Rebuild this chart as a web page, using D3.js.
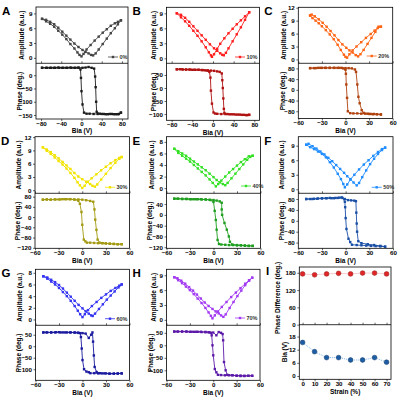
<!DOCTYPE html>
<html>
<head>
<meta charset="utf-8">
<script src="https://cdn.jsdelivr.net/npm/d3@7/dist/d3.min.js"></script>
<style>
  body { margin: 0; background: #fff; }
  text { font-family: 'Liberation Sans', Arial, sans-serif; font-weight: bold; }
</style>
</head>
<body>
<svg id="fig" width="400" height="397"></svg>
<script>
// ---- data: [bias (V), value] pairs ----
// A, 0 %
const ampUpA = [[-78,7.9],[-70,7.7],[-62,7.3],[-54,6.8],[-46,6.1],[-38,5.3],[-30,4.5],[-22,3.7],[-14,2.9],[-6,2.2],[2,1.6],[8,1.2],[14,0.9],[19,0.6],[23,0.5],[28,0.9],[34,1.7],[42,2.8],[50,3.9],[58,5.0],[66,6.0],[72,6.8],[78,7.6]];
const ampDownA = [[-78,7.9],[-70,7.4],[-62,6.9],[-54,6.3],[-46,5.5],[-38,4.7],[-30,3.8],[-22,2.8],[-14,1.9],[-8,1.1],[-4,0.6],[0,0.3],[4,0.8],[10,1.7],[18,2.6],[26,3.5],[34,4.3],[42,5.1],[50,5.8],[58,6.5],[66,7.0],[72,7.3],[78,7.6]];
const phaseUpA = [[-78,28],[-70,28],[-62,28],[-54,28],[-46,29],[-38,28],[-30,28],[-22,29],[-14,28],[-6,29],[2,28],[8,29],[14,31],[20,28],[25,25],[27,-5],[28,-45],[29,-100],[30,-138],[36,-145],[44,-146],[52,-147],[60,-146],[68,-147],[74,-146],[78,-141]];
const phaseDownA = [[78,-141],[72,-147],[64,-147],[56,-146],[48,-147],[40,-146],[32,-146],[24,-146],[16,-145],[10,-145],[5,-141],[2,-110],[0,-60],[-1,-10],[-2,22],[-6,28],[-12,28],[-20,28],[-28,28],[-36,28],[-44,28],[-52,28],[-60,28],[-68,28],[-78,28]];
// B, 10 %
const ampUpB = [[-70,9.0],[-62,8.7],[-54,8.1],[-46,7.3],[-38,6.4],[-30,5.5],[-22,4.6],[-14,3.7],[-6,2.8],[2,2.0],[8,1.5],[14,1.0],[18,0.7],[21,0.6],[25,1.1],[30,2.0],[38,3.4],[46,4.8],[54,6.2],[62,7.7],[70,9.2]];
const ampDownB = [[-70,9.0],[-62,8.2],[-54,7.4],[-46,6.5],[-38,5.5],[-30,4.5],[-22,3.4],[-14,2.2],[-8,1.2],[-4,0.6],[-2,0.3],[2,0.8],[8,1.9],[14,2.9],[22,4.0],[30,5.0],[38,5.9],[46,6.8],[54,7.6],[62,8.4],[70,9.2]];
const phaseUpB = [[-70,72],[-64,72],[-58,71],[-52,71],[-46,71],[-40,70],[-34,70],[-28,70],[-22,69],[-16,68],[-10,68],[-4,67],[2,66],[8,64],[13,62],[17,56],[18,30],[19,0],[20,-40],[21,-80],[22,-96],[28,-100],[36,-101],[44,-102],[52,-102],[60,-103],[66,-104],[70,-103]];
const phaseDownB = [[70,-103],[64,-104],[56,-103],[48,-102],[40,-101],[32,-101],[24,-100],[16,-100],[8,-99],[4,-98],[1,-94],[-2,-60],[-4,-10],[-5,40],[-7,62],[-12,67],[-20,69],[-28,70],[-36,70],[-44,71],[-52,71],[-60,72],[-70,72]];
// C, 20 %
const ampUpC = [[-45,10.2],[-43,10.4],[-39,10.0],[-34,9.3],[-29,8.5],[-24,7.6],[-19,6.6],[-14,5.6],[-9,4.5],[-4,3.5],[1,2.7],[5,2.1],[9,1.6],[13,1.0],[16,0.7],[19,1.2],[23,2.2],[28,3.6],[33,5.0],[38,6.4],[42,7.6],[45,7.6]];
const ampDownC = [[-45,10.2],[-42,9.6],[-38,9.0],[-34,8.4],[-30,7.7],[-25,6.8],[-20,5.8],[-15,4.7],[-10,3.4],[-6,2.2],[-2,1.1],[0,0.6],[2,0.4],[5,1.2],[9,2.1],[14,3.0],[20,4.0],[26,5.0],[32,5.9],[37,6.7],[41,7.3],[45,7.6]];
const phaseUpC = [[-45,81],[-40,81],[-35,82],[-30,82],[-25,82],[-20,82],[-15,82],[-10,82],[-5,82],[0,81],[4,81],[8,80],[12,76],[13.4,67],[15,20],[16.4,-26],[18,-50],[20.6,-76],[23,-86],[28,-89],[32,-90],[36,-90],[40,-91],[45,-92]];
const phaseDownC = [[45,-92],[40,-91],[35,-91],[30,-90],[25,-89],[20,-89],[15,-88],[10,-88],[6,-87],[3,-80],[2,-30],[1,20],[0.5,60],[0,75],[-3,80],[-8,82],[-14,82],[-20,82],[-26,82],[-32,82],[-38,81],[-45,81]];
// D, 30 %
const ampUpD = [[-50,9.7],[-45,9.2],[-40,8.6],[-35,7.9],[-30,7.2],[-25,6.4],[-20,5.6],[-15,4.8],[-10,3.9],[-5,3.1],[0,2.5],[5,1.9],[10,1.4],[13,1.0],[16,0.8],[19,1.3],[24,2.4],[30,3.7],[36,5.0],[42,6.2],[47,7.1],[50,7.5]];
const ampDownD = [[-50,9.7],[-45,8.9],[-40,8.2],[-35,7.4],[-30,6.6],[-25,5.8],[-20,4.9],[-15,3.9],[-10,2.8],[-6,1.8],[-3,1.1],[0,0.5],[3,1.0],[7,1.9],[12,2.7],[18,3.6],[24,4.5],[30,5.3],[36,6.1],[42,6.8],[47,7.3],[50,7.5]];
const phaseUpD = [[-50,68],[-45,69],[-40,68],[-35,69],[-30,69],[-25,70],[-20,70],[-15,70],[-10,69],[-5,69],[0,68],[5,66],[10,63],[14,60],[15.5,30],[16.5,-10],[18,-50],[19.5,-88],[22,-100],[26,-102],[30,-103],[35,-104],[40,-105],[45,-106],[50,-106]];
const phaseDownD = [[50,-106],[45,-106],[40,-105],[35,-104],[30,-103],[25,-102],[20,-102],[15,-101],[10,-100],[6,-100],[4,-95],[2,-88],[0,-30],[-1,20],[-3,52],[-5,64],[-10,68],[-16,70],[-22,70],[-28,69],[-34,69],[-40,68],[-45,69],[-50,68]];
// E, 40 %
const ampUpE = [[-50,6.8],[-45,6.4],[-40,6.0],[-35,5.6],[-30,5.1],[-25,4.6],[-20,4.1],[-15,3.6],[-10,3.1],[-5,2.5],[0,1.9],[4,1.4],[8,1.0],[12,0.7],[15,0.5],[18,0.9],[23,1.7],[28,2.5],[33,3.3],[38,4.1],[43,4.9],[47,5.4],[50,5.6]];
const ampDownE = [[-50,6.8],[-45,6.1],[-40,5.6],[-35,5.1],[-30,4.6],[-25,4.0],[-20,3.4],[-15,2.8],[-10,2.2],[-5,1.5],[-1,0.9],[3,0.3],[6,0.7],[10,1.3],[15,2.0],[20,2.7],[25,3.3],[30,3.9],[35,4.5],[40,5.0],[45,5.5],[50,5.6]];
const phaseUpE = [[-50,60],[-45,60],[-40,59],[-35,59],[-30,58],[-25,58],[-20,58],[-15,57],[-10,57],[-5,56],[0,55],[4,53],[8,50],[10.5,45],[10.5,20],[11,0],[14,-30],[17,-55],[19.6,-80],[21,-100],[24,-110],[30,-112],[35,-113],[40,-114],[45,-115],[50,-115]];
const phaseDownE = [[50,-115],[45,-115],[40,-114],[35,-113],[30,-113],[25,-112],[20,-112],[15,-111],[10,-110],[7,-108],[5.2,-93],[4,-55],[3,-19],[1.5,15],[0,48],[-4,55],[-10,57],[-16,58],[-22,58],[-28,58],[-34,59],[-40,59],[-46,60],[-50,60]];
// F, 50 %
const ampUpF = [[-50,9.2],[-47,9.4],[-42,8.9],[-37,8.4],[-32,7.8],[-27,7.2],[-22,6.5],[-17,5.8],[-12,5.0],[-7,4.2],[-2,3.4],[2,2.7],[6,2.1],[10,1.4],[14,0.8],[17,1.3],[21,2.5],[26,3.9],[31,5.2],[36,6.3],[41,7.3],[46,8.1],[50,8.6]];
const ampDownF = [[-50,9.2],[-45,8.7],[-40,8.3],[-35,7.8],[-30,7.3],[-25,6.6],[-20,5.6],[-15,4.5],[-10,3.2],[-6,2.1],[-3,1.1],[-1,0.4],[2,1.0],[6,2.0],[11,3.0],[17,4.1],[23,5.1],[29,6.0],[35,6.9],[41,7.7],[46,8.3],[50,8.6]];
const phaseUpF = [[-50,80],[-45,80],[-40,81],[-35,82],[-30,83],[-25,83],[-20,84],[-15,83],[-10,84],[-5,86],[-1,80],[3,76],[7,75],[11,74],[13,72],[13.5,30],[14,-10],[14.5,-40],[16,-75],[20,-82],[28,-86],[36,-89],[44,-92],[50,-95]];
const phaseDownF = [[50,-95],[44,-94],[38,-93],[32,-92],[26,-91],[20,-90],[14,-89],[8,-88],[5.8,-78],[3.6,-66],[1,-30],[0,10],[-0.6,50],[-1,70],[-4,84],[-8,85],[-13,84],[-18,83],[-24,83],[-30,82],[-36,81],[-42,80],[-50,80]];
// G, 60 %
const ampUpG = [[-50,7.4],[-45,7.2],[-40,6.8],[-35,6.4],[-30,5.9],[-25,5.3],[-20,4.6],[-15,3.9],[-10,3.2],[-5,2.5],[0,1.9],[4,1.4],[8,1.0],[11,0.7],[13,0.6],[16,1.0],[21,1.8],[26,2.6],[31,3.4],[36,4.1],[41,4.8],[46,5.5],[50,6.0]];
const ampDownG = [[-50,7.4],[-45,7.0],[-40,6.5],[-35,6.0],[-30,5.4],[-25,4.7],[-20,4.0],[-15,3.2],[-10,2.3],[-6,1.5],[-3,0.9],[0,0.4],[3,0.9],[7,1.6],[12,2.3],[18,3.0],[24,3.7],[30,4.3],[36,4.9],[42,5.4],[47,5.8],[50,6.0]];
const phaseUpG = [[-50,60],[-45,60],[-40,60],[-35,60],[-30,61],[-25,60],[-20,60],[-15,60],[-10,59],[-5,58],[0,57],[4,55],[8,36],[11,50],[12.7,60],[13.5,20],[14.5,-40],[15.5,-90],[18,-112],[22,-117],[28,-118],[34,-119],[40,-119],[45,-118],[50,-118]];
const phaseDownG = [[50,-118],[45,-119],[40,-119],[35,-119],[30,-118],[25,-118],[20,-118],[15,-117],[10,-117],[8,-113],[5,-110],[2,-100],[0,-60],[-1,-10],[-2,40],[-3,57],[-6,59],[-10,60],[-16,60],[-22,60],[-28,60],[-34,61],[-40,60],[-46,60],[-50,60]];
// H, 70 %
const ampUpH = [[-50,8.6],[-46,8.4],[-41,7.9],[-36,7.3],[-31,6.6],[-26,5.9],[-21,5.1],[-16,4.3],[-11,3.5],[-6,2.8],[-1,2.2],[3,1.7],[7,1.3],[10,0.9],[13,0.6],[16,1.1],[21,2.4],[26,3.6],[31,4.8],[36,5.9],[41,7.0],[46,7.9],[50,8.5]];
const ampDownH = [[-50,8.6],[-45,8.0],[-40,7.4],[-35,6.7],[-30,6.0],[-25,5.2],[-20,4.3],[-15,3.4],[-10,2.4],[-6,1.5],[-3,0.8],[-1,0.3],[2,0.9],[6,1.7],[11,2.6],[17,3.6],[23,4.6],[29,5.5],[35,6.4],[41,7.3],[46,8.0],[50,8.5]];
const phaseUpH = [[-50,55],[-45,55],[-40,55],[-35,55],[-30,54],[-25,54],[-20,54],[-15,53],[-10,53],[-5,52],[0,51],[4,40],[7,53],[10,50],[12,45],[12.7,20],[13.8,-67],[15.9,-100],[18,-118],[24,-120],[30,-122],[35,-123],[40,-123],[45,-122],[50,-122]];
const phaseDownH = [[50,-122],[45,-122],[40,-122],[35,-121],[30,-121],[25,-120],[20,-120],[15,-120],[10,-119],[6,-118],[4,-108],[2,-95],[0,-40],[-1,0],[-2,40],[-3,50],[-6,52],[-10,53],[-16,54],[-22,54],[-28,54],[-34,55],[-40,55],[-46,55],[-50,55]];
// I, summary vs strain
const strain = [0, 10, 20, 30, 40, 50, 60, 70];
const phaseDiff = [176, 173, 176, 178, 176, 179, 179, 176];
const coerciveBias = [15.3, 11.1, 8.4, 8.4, 7.3, 7.3, 8.4, 6.3];

// tick labels
const biasTicksWide = [-80, -40, 0, 40, 80];
const biasTicks = [-60, -30, 0, 30, 60];
const strainTicks = [0, 10, 20, 30, 40, 50, 60, 70];

const svg = d3.select('#fig');

// panels: layout + which arrays to use
const panels = [
  {id: 'A', label: '0%', x0: 36, x1: 128, y0: 7, ym: 63.3, y1: 119, xd: [-90, 92], ad: [-1.1, 10.3], pd: [-165, 45],
   xt: biasTicksWide, at: [0, 3, 6, 9], pt: [0, -50, -100, -150], ampLx: 21.5, phLx: 19.5, legX: 113, legY: 57,
   ampC: '#444444', phC: '#1c1c1c', amp: [ampUpA, ampDownA], ph: [phaseUpA, phaseDownA]},
  {id: 'B', label: '10%', x0: 166.5, x1: 259.5, y0: 7.3, ym: 63.3, y1: 120.3, xd: [-90, 90], ad: [-1, 10.2], pd: [-124, 95],
   xt: biasTicksWide, at: [0, 3, 6, 9], pt: [50, 0, -50, -100], ampLx: 154, phLx: 154, legX: 240, legY: 57,
   ampC: '#ff1f1f', phC: '#b01212', amp: [ampUpB, ampDownB], ph: [phaseUpB, phaseDownB]},
  {id: 'C', label: '20%', x0: 298.3, x1: 392.7, y0: 7.3, ym: 63.3, y1: 118.5, xd: [-60, 60], ad: [-0.9, 12.1], pd: [-107, 99],
   xt: biasTicks, at: [0, 3, 6, 9, 12], pt: [80, 40, 0, -40, -80], ampLx: 283.3, phLx: 282.3, legX: 371.7, legY: 56,
   ampC: '#ff6414', phC: '#b0420e', amp: [ampUpC, ampDownC], ph: [phaseUpC, phaseDownC]},
  {id: 'D', label: '30%', x0: 35, x1: 129.5, y0: 136.7, ym: 193.3, y1: 248.3, xd: [-60, 60], ad: [-0.7, 12.1], pd: [-122, 93],
   xt: biasTicks, at: [0, 3, 6, 9, 12], pt: [80, 40, 0, -40, -80, -120], ampLx: 18.3, phLx: 17.3, legX: 110, legY: 187.3,
   ampC: '#f2e400', phC: '#a39a12', amp: [ampUpD, ampDownD], ph: [phaseUpD, phaseDownD]},
  {id: 'E', label: '40%', x0: 166.5, x1: 260.5, y0: 136.7, ym: 193.3, y1: 248.3, xd: [-60, 60], ad: [-0.9, 8.9], pd: [-124, 80],
   xt: biasTicks, at: [0, 2, 4, 6, 8], pt: [40, 0, -40, -80, -120], ampLx: 151.7, phLx: 150, legX: 246, legY: 186,
   ampC: '#33e024', phC: '#1f9e1f', amp: [ampUpE, ampDownE], ph: [phaseUpE, phaseDownE]},
  {id: 'F', label: '50%', x0: 298.3, x1: 393, y0: 136.7, ym: 193.3, y1: 248.3, xd: [-60, 60], ad: [-0.83, 10.86], pd: [-101, 101],
   xt: biasTicks, at: [0, 3, 6, 9], pt: [80, 40, 0, -40, -80], ampLx: 281.7, phLx: 281.7, legX: 376.7, legY: 187.3,
   ampC: '#1f8cff', phC: '#1a4fa6', amp: [ampUpF, ampDownF], ph: [phaseUpF, phaseDownF]},
  {id: 'G', label: '60%', x0: 35.5, x1: 129.5, y0: 269.3, ym: 325.3, y1: 380.3, xd: [-60, 60], ad: [-1.0, 8.6], pd: [-148, 91],
   xt: biasTicks, at: [0, 2, 4, 6, 8], pt: [50, 0, -50, -100], ampLx: 20, phLx: 18.3, legX: 110, legY: 318.7,
   ampC: '#3434f2', phC: '#1a1a9e', amp: [ampUpG, ampDownG], ph: [phaseUpG, phaseDownG]},
  {id: 'H', label: '70%', x0: 166.5, x1: 260, y0: 269.3, ym: 325.3, y1: 380.3, xd: [-60, 60], ad: [-1.1, 10.2], pd: [-140, 80],
   xt: biasTicks, at: [0, 3, 6, 9], pt: [50, 0, -50, -100], ampLx: 153.3, phLx: 150.7, legX: 240, legY: 318,
   ampC: '#a23af2', phC: '#5c1aa8', amp: [ampUpH, ampDownH], ph: [phaseUpH, phaseDownH]}
];

const tickFont = 6.2;

function styleAxis(g) {
  g.select('.domain').remove();
  g.selectAll('.tick line').attr('stroke', '#000').attr('stroke-width', 0.6);
  g.selectAll('.tick text').attr('font-size', tickFont).attr('fill', '#000')
    .style('font-family', "'Liberation Sans', Arial, sans-serif").style('font-weight', 'bold');
}

function drawSeries(g, data, x, y, color) {
  const line = d3.line().x(d => x(d[0])).y(d => y(d[1]));
  g.append('path').attr('d', line(data)).attr('fill', 'none')
    .attr('stroke', color).attr('stroke-width', 0.9);
  g.selectAll(null).data(data).enter().append('rect')
    .attr('x', d => x(d[0]) - 1.2).attr('y', d => y(d[1]) - 1.2)
    .attr('width', 2.4).attr('height', 2.4).attr('fill', color);
}

panels.forEach(p => {
  const g = svg.append('g');
  const x = d3.scaleLinear().domain(p.xd).range([p.x0, p.x1]);
  const ya = d3.scaleLinear().domain(p.ad).range([p.ym, p.y0]);
  const yp = d3.scaleLinear().domain(p.pd).range([p.y1, p.ym]);

  p.amp.forEach(s => drawSeries(g, s, x, ya, p.ampC));
  p.ph.forEach(s => drawSeries(g, s, x, yp, p.phC));

  // frame + divider
  g.append('rect').attr('x', p.x0).attr('y', p.y0).attr('width', p.x1 - p.x0).attr('height', p.y1 - p.y0)
    .attr('fill', 'none').attr('stroke', '#000').attr('stroke-width', 0.8);
  g.append('line').attr('x1', p.x0).attr('x2', p.x1).attr('y1', p.ym).attr('y2', p.ym)
    .attr('stroke', '#000').attr('stroke-width', 0.8);

  g.append('g').attr('transform', `translate(${p.x0},0)`)
    .call(d3.axisLeft(ya).tickValues(p.at).tickSize(2).tickPadding(1.5)).call(styleAxis);
  g.append('g').attr('transform', `translate(${p.x0},0)`)
    .call(d3.axisLeft(yp).tickValues(p.pt).tickSize(2).tickPadding(1.5)).call(styleAxis);
  g.append('g').attr('transform', `translate(0,${p.y1})`)
    .call(d3.axisBottom(x).tickValues(p.xt).tickSize(2).tickPadding(0.3)).call(styleAxis);
  g.append('g').attr('transform', `translate(0,${p.ym})`)
    .call(d3.axisTop(x).tickValues(p.xt).tickSize(2).tickFormat('')).call(styleAxis);

  // titles
  g.append('text').attr('transform', `translate(${p.ampLx},${(p.y0 + p.ym) / 2}) rotate(-90)`)
    .attr('text-anchor', 'middle').attr('dy', '0.35em').attr('font-size', 6.5).text('Amplitude (a.u.)');
  g.append('text').attr('transform', `translate(${p.phLx},${(p.ym + p.y1) / 2}) rotate(-90)`)
    .attr('text-anchor', 'middle').attr('dy', '0.35em').attr('font-size', 6.5).text('Phase (deg.)');
  g.append('text').attr('x', (p.x0 + p.x1) / 2).attr('y', p.y1 + 14.2).attr('text-anchor', 'middle')
    .attr('font-size', 6.5).text('Bia (V)');

  // legend
  g.append('line').attr('x1', p.legX - 5).attr('x2', p.legX + 5).attr('y1', p.legY).attr('y2', p.legY)
    .attr('stroke', p.ampC).attr('stroke-width', 0.8);
  g.append('rect').attr('x', p.legX - 1.2).attr('y', p.legY - 1.2).attr('width', 2.4).attr('height', 2.4)
    .attr('fill', p.ampC);
  g.append('text').attr('x', p.legX + 6.5).attr('y', p.legY).attr('dy', '0.35em')
    .attr('font-size', 5.5).attr('fill', '#333').text(p.label);

  // panel letter
  svg.append('text').attr('x', p.x0 - 34).attr('y', p.y0 + 8).attr('font-size', 11.5).text(p.id);
});

// ---- panel I ----
(function () {
  const p = {x0: 299.3, x1: 391, y0: 267, ym: 324.7, y1: 379.3};
  const g = svg.append('g');
  const x = d3.scaleLinear().domain([-2.75, 73.7]).range([p.x0, p.x1]);
  const yu = d3.scaleLinear().domain([0, 200]).range([p.ym, p.y0]);
  const yl = d3.scaleLinear().domain([-1.5, 23.4]).range([p.y1, p.ym]);

  const upper = strain.map((s, i) => [s, phaseDiff[i]]);
  const lower = strain.map((s, i) => [s, coerciveBias[i]]);

  function dotted(data, y, lineC, fillC) {
    const line = d3.line().x(d => x(d[0])).y(d => y(d[1]));
    g.append('path').attr('d', line(data)).attr('fill', 'none').attr('stroke', lineC)
      .attr('stroke-width', 1).attr('stroke-dasharray', '1,1');
    g.selectAll(null).data(data).enter().append('circle')
      .attr('cx', d => x(d[0])).attr('cy', d => y(d[1])).attr('r', 2.4)
      .attr('fill', fillC).attr('stroke', d3.color(fillC).darker(1.2)).attr('stroke-width', 0.5);
  }
  dotted(upper, yu, '#f2a0a0', '#e02626');
  dotted(lower, yl, '#86b8e6', '#1d5da3');

  g.append('rect').attr('x', p.x0).attr('y', p.y0).attr('width', p.x1 - p.x0).attr('height', p.y1 - p.y0)
    .attr('fill', 'none').attr('stroke', '#000').attr('stroke-width', 0.8);
  g.append('line').attr('x1', p.x0).attr('x2', p.x1).attr('y1', p.ym).attr('y2', p.ym)
    .attr('stroke', '#000').attr('stroke-width', 0.8);

  g.append('g').attr('transform', `translate(${p.x0},0)`)
    .call(d3.axisLeft(yu).tickValues([0, 60, 120, 180]).tickSize(2).tickPadding(1.5)).call(styleAxis);
  g.append('g').attr('transform', `translate(${p.x0},0)`)
    .call(d3.axisLeft(yl).tickValues([0, 6, 12, 18]).tickSize(2).tickPadding(1.5)).call(styleAxis);
  g.append('g').attr('transform', `translate(0,${p.y1})`)
    .call(d3.axisBottom(x).tickValues(strainTicks).tickSize(2).tickPadding(0.3)).call(styleAxis);
  g.append('g').attr('transform', `translate(0,${p.ym})`)
    .call(d3.axisTop(x).tickValues(strainTicks).tickSize(2).tickFormat('')).call(styleAxis);

  g.append('text').attr('transform', `translate(277.7,${(p.y0 + p.ym) / 2 + 2}) rotate(-90)`)
    .attr('text-anchor', 'middle').attr('dy', '0.35em').attr('font-size', 6.5).text('Phase Difference (deg.)');
  g.append('text').attr('transform', `translate(285,${(p.ym + p.y1) / 2}) rotate(-90)`)
    .attr('text-anchor', 'middle').attr('dy', '0.35em').attr('font-size', 6.5).text('Bia (V)');
  g.append('text').attr('x', (p.x0 + p.x1) / 2).attr('y', p.y1 + 14.2).attr('text-anchor', 'middle')
    .attr('font-size', 6.5).text('Strain (%)');

  svg.append('text').attr('x', 266).attr('y', p.y0 + 8).attr('font-size', 11.5).text('I');
})();
</script>
</body>
</html>
